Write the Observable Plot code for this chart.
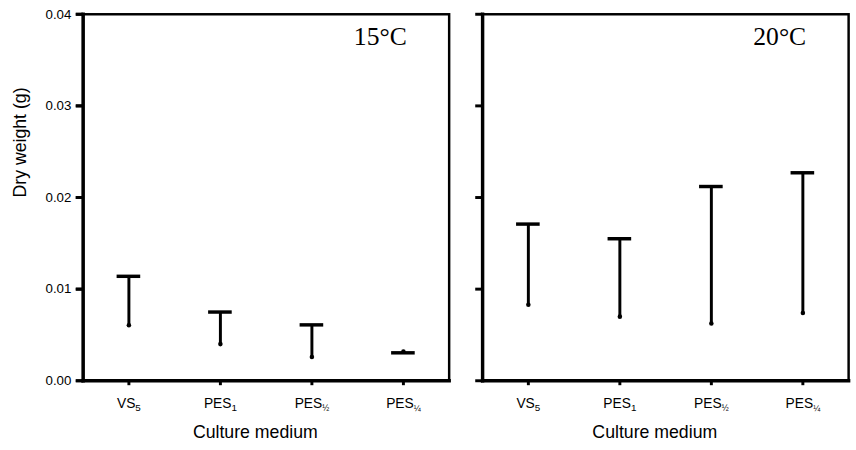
<!DOCTYPE html>
<html>
<head>
<meta charset="utf-8">
<script src="https://cdn.jsdelivr.net/npm/d3@7"></script>
<script src="https://cdn.jsdelivr.net/npm/@observablehq/plot@0.6"></script>
<style>
  html, body { margin: 0; padding: 0; background: #fff; overflow: hidden; }
  #chart { width: 856px; height: 450px; overflow: hidden; }
</style>
</head>
<body>
<div id="chart"></div>
<script>
// ---- data ----
const temps = ["15°C", "20°C"];
const media = ["VS5", "PES1", "PES½", "PES¼"];
const mediaBase = ["VS", "PES", "PES", "PES"];
const mediaSub = ["5", "1", "½", "¼"];
const mean15 = [0.00605, 0.0040, 0.0026, 0.0032];
const upper15 = [0.0114, 0.0075, 0.0061, 0.00305];
const mean20 = [0.0083, 0.0070, 0.00625, 0.0074];
const upper20 = [0.0171, 0.0155, 0.0212, 0.0227];
const yTicks = [0, 0.01, 0.02, 0.03, 0.04];

const rows = [];
media.forEach((m, i) => {
  rows.push({temp: temps[0], medium: m, mean: mean15[i], upper: upper15[i]});
  rows.push({temp: temps[1], medium: m, mean: mean20[i], upper: upper20[i]});
});

const sans = "'Liberation Sans', Arial, sans-serif";
const serif = "'Liberation Serif', 'Times New Roman', serif";

const plot = Plot.plot({
  width: 870,
  height: 450,
  marginLeft: 84,
  marginRight: 8,
  marginTop: 14,
  marginBottom: 63.5,
  style: {fontFamily: sans, color: "#000", background: "#fff"},
  fx: {domain: temps, axis: null, paddingInner: 34 / 406, paddingOuter: 0},
  x: {domain: media, padding: 0},
  y: {domain: [0, 0.04]},
  marks: [
    Plot.frame({stroke: "#000", strokeWidth: 2.5}),
    Plot.frame({anchor: "left", stroke: "#000", strokeWidth: 3.5}),
    Plot.frame({anchor: "bottom", stroke: "#000", strokeWidth: 3.5}),
    Plot.axisY({ticks: yTicks, tickSize: 7, tickPadding: 5, tickFormat: d3.format(".2f"),
      strokeWidth: 3, fontSize: 13.5, label: null}),
    Plot.axisY({ticks: yTicks, tickSize: 7, tickFormat: () => "", strokeWidth: 3,
      facetAnchor: null, label: null}),
    Plot.axisX({tickSize: 5, tickPadding: 13, strokeWidth: 3, fontSize: 14, label: null}),
    Plot.ruleX(rows, {fx: "temp", x: "medium", y1: "mean", y2: "upper", stroke: "#000", strokeWidth: 3}),
    Plot.tickY(rows, {fx: "temp", x: "medium", y: "upper", stroke: "#000", strokeWidth: 3.5,
      insetLeft: 34.5, insetRight: 34.5}),
    Plot.dot(rows, {fx: "temp", x: "medium", y: "mean", r: 2.3, fill: "#000", stroke: null}),
    Plot.text(temps, {fx: d => d, text: d => d, frameAnchor: "top-right", dx: -70, dy: 23,
      textAnchor: "middle", lineAnchor: "middle", fontFamily: serif, fontSize: 26, fill: "#000"}),
    Plot.text(["Culture medium"], {text: d => d, frameAnchor: "bottom", dx: -11, dy: 52,
      lineAnchor: "middle", fontSize: 18, fill: "#000"}),
    Plot.text([temps[0]], {fx: d => d, text: () => "Dry weight (g)", frameAnchor: "left", dx: -64,
      rotate: -90, lineAnchor: "middle", fontSize: 18, fill: "#000"})
  ]
});

// subscripted category labels
const NS = "http://www.w3.org/2000/svg";
plot.querySelectorAll('g[aria-label="x-axis tick label"] text').forEach(t => {
  const i = media.indexOf(t.textContent);
  if (i < 0) return;
  t.textContent = "";
  const b = document.createElementNS(NS, "tspan");
  b.textContent = mediaBase[i];
  t.appendChild(b);
  const s = document.createElementNS(NS, "tspan");
  s.textContent = mediaSub[i];
  const frac = i >= 2;
  s.setAttribute("font-size", frac ? "8.5" : "10");
  s.setAttribute("dy", frac ? "2.5" : "3");
  t.appendChild(s);
});

document.getElementById("chart").appendChild(plot);
</script>
</body>
</html>
